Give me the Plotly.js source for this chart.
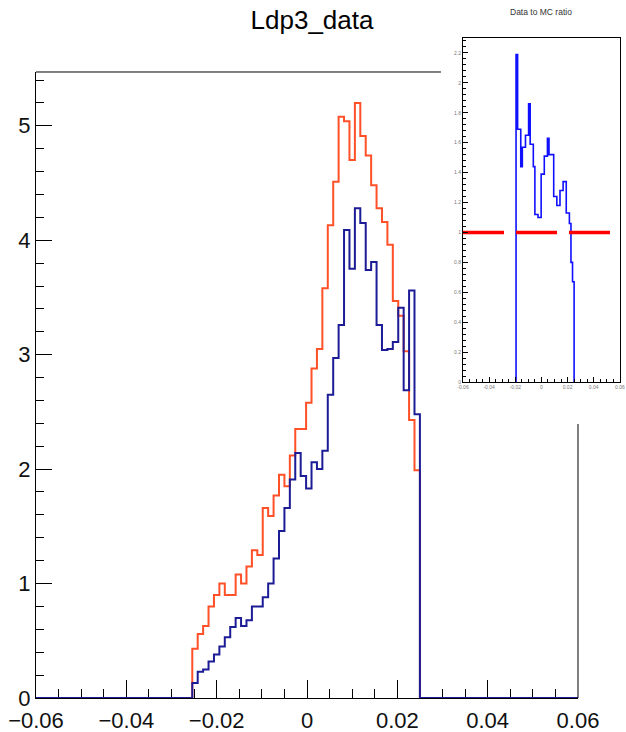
<!DOCTYPE html>
<html>
<head>
<meta charset="utf-8">
<script src="https://cdn.plot.ly/plotly-3.0.1.min.js"></script>
<style>
  html, body { margin: 0; padding: 0; background: #fff; }
  #plot { width: 626px; height: 732px; }
</style>
</head>
<body>
<div id="plot"></div>
<script>
// Histogram binning (shared by both distributions and the ratio)
const axisRange = [-0.06, 0.06];
const insetRange = [-0.06, 0.0601];
const binStart = -0.0254;
const binWidth = 0.0012;

// Inset x tick positions and labels
const insetTickVals = [-0.06, -0.04, -0.02, 0, 0.02, 0.04, 0.06];
const insetTickText = ['-0.06', '-0.04', '-0.02', '0', '0.02', '0.04', '0.06'];

// Bin contents, left to right
const histOrange = [
  0.43, 0.56, 0.63, 0.80, 0.90, 1.00, 0.90, 0.90, 1.08, 1.00,
  1.15, 1.29, 1.25, 1.66, 1.59, 1.77, 1.95, 1.85, 2.12, 2.35,
  2.35, 2.58, 2.88, 3.05, 3.58, 4.13, 4.51, 5.08, 5.04, 4.70,
  5.20, 4.91, 4.74, 4.48, 4.28, 4.16, 3.96, 3.47, 3.34, 3.03,
  2.43, 1.99
];
const histNavy = [
  0.13, 0.23, 0.25, 0.32, 0.38, 0.45, 0.53, 0.62, 0.70, 0.63,
  0.68, 0.80, 0.80, 0.88, 1.00, 1.22, 1.46, 1.66, 1.91, 2.14,
  1.94, 1.83, 2.06, 2.00, 2.16, 2.65, 2.97, 3.26, 4.09, 3.75,
  4.28, 4.15, 3.74, 3.81, 3.26, 3.04, 3.05, 3.11, 3.41, 2.69,
  3.56, 2.48
];

// Data to MC ratio, starting at this bin index
const ratioFirstBin = 5;
const ratioValues = [
  2.19, 1.69, 1.69, 1.44, 1.57, 1.57, 1.65, 1.65, 1.86, 1.59,
  1.59, 1.44, 1.12, 1.12, 1.10, 1.10, 1.39, 1.39, 1.51, 1.51,
  1.63, 1.52, 1.52, 1.52, 1.24, 1.24, 1.18, 1.18, 1.28, 1.28,
  1.34, 1.34, 1.13, 1.13, 1.06, 0.80, 0.67
];
const ratioReference = 1;

const FONT = 'Liberation Sans, Arial, Helvetica, sans-serif';

// Step outline of a histogram; optionally run along zero to the axis ends
function stepOutline(values, firstEdge, width, extendTo) {
  const xs = [], ys = [];
  if (extendTo) { xs.push(extendTo[0]); ys.push(0); }
  else { xs.push(firstEdge); ys.push(0); }
  values.forEach((v, i) => { xs.push(firstEdge + i * width); ys.push(v); });
  xs.push(firstEdge + values.length * width); ys.push(0);
  if (extendTo) { xs.push(extendTo[1]); ys.push(0); }
  return { x: xs, y: ys };
}

const orangeStep = stepOutline(histOrange, binStart, binWidth, axisRange);
const navyStep = stepOutline(histNavy, binStart, binWidth, axisRange);
const ratioStep = stepOutline(ratioValues, binStart + ratioFirstBin * binWidth, binWidth, null);

const traces = [
  { x: orangeStep.x, y: orangeStep.y, type: 'scatter', mode: 'lines',
    line: { shape: 'hv', color: '#ff5028', width: 2 }, xaxis: 'x', yaxis: 'y', hoverinfo: 'skip' },
  { x: navyStep.x, y: navyStep.y, type: 'scatter', mode: 'lines',
    line: { shape: 'hv', color: '#1c1c96', width: 2 }, xaxis: 'x', yaxis: 'y', hoverinfo: 'skip' },
  { x: ratioStep.x, y: ratioStep.y, type: 'scatter', mode: 'lines',
    line: { shape: 'hv', color: '#1010ff', width: 1.6 }, xaxis: 'x2', yaxis: 'y2', hoverinfo: 'skip' },
  { x: axisRange, y: [ratioReference, ratioReference], type: 'scatter', mode: 'lines',
    line: { color: '#ff0000', width: 3.5, dash: '41px,12px' }, xaxis: 'x2', yaxis: 'y2', hoverinfo: 'skip' }
];

const layout = {
  width: 626,
  height: 732,
  margin: { l: 36, r: 0, t: 0, b: 34 },
  paper_bgcolor: '#ffffff',
  plot_bgcolor: 'rgba(0,0,0,0)',
  showlegend: false,
  title: {
    text: 'Ldp3_data',
    font: { family: FONT, size: 26, color: '#000' },
    x: 312 / 626, xref: 'container', xanchor: 'center',
    y: 1 - 20 / 732, yref: 'container', yanchor: 'middle'
  },
  xaxis: {
    domain: [0, 0.91864], anchor: 'y', range: axisRange,
    showline: true, linecolor: '#000', linewidth: 1, layer: 'below traces',
    ticks: 'inside', ticklen: 18, tickwidth: 1, tickcolor: '#000',
    tickmode: 'linear', tick0: -0.06, dtick: 0.02, ticklabelstandoff: 3,
    minor: { dtick: 0.005, tick0: 0, ticks: 'inside', ticklen: 9, tickcolor: '#000', showgrid: false },
    showgrid: false, zeroline: false,
    tickfont: { family: FONT, size: 22, color: '#111' }
  },
  yaxis: {
    domain: [0, 0.89685], anchor: 'x', range: [0, 5.47],
    showline: true, linecolor: '#000', linewidth: 1,
    ticks: 'inside', ticklen: 16, tickwidth: 1, tickcolor: '#000',
    tickmode: 'linear', tick0: 0, dtick: 1,
    minor: { dtick: 0.2, tick0: 0, ticks: 'inside', ticklen: 8, tickcolor: '#000', showgrid: false },
    showgrid: false, zeroline: false,
    tickfont: { family: FONT, size: 22, color: '#111' }
  },
  xaxis2: {
    domain: [0.7237, 0.9898], anchor: 'y2', range: insetRange,
    showline: true, mirror: true, linecolor: '#000', linewidth: 1,
    ticks: 'inside', ticklen: 5, tickwidth: 1, tickcolor: '#000',
    tickmode: 'array', tickvals: insetTickVals, ticktext: insetTickText,
    minor: { dtick: 0.005, tick0: 0, ticks: 'inside', ticklen: 3, tickcolor: '#000', showgrid: false },
    showgrid: false, zeroline: false, ticklabeloverflow: 'allow',
    tickfont: { family: FONT, size: 5, color: '#777' }
  },
  yaxis2: {
    domain: [0.4527, 0.94556], anchor: 'x2', range: [0, 2.3],
    showline: true, mirror: true, linecolor: '#000', linewidth: 1,
    ticks: 'inside', ticklen: 5, tickwidth: 1, tickcolor: '#000',
    tickmode: 'linear', tick0: 0, dtick: 0.2,
    minor: { dtick: 0.04, tick0: 0, ticks: 'inside', ticklen: 3, tickcolor: '#000', showgrid: false },
    showgrid: false, zeroline: false,
    tickfont: { family: FONT, size: 5, color: '#777' }
  },
  annotations: [{
    text: 'Data to MC ratio', xref: 'paper', yref: 'paper',
    x: 0.856, y: 0.9828, xanchor: 'center', yanchor: 'middle', showarrow: false,
    font: { family: FONT, size: 8.5, color: '#333' }
  }],
  shapes: [
    // Upper frame edge of the main pad, up to the inset
    { type: 'line', xref: 'paper', yref: 'paper', x0: 0, x1: 0.6864, y0: 0.89685, y1: 0.89685,
      line: { color: '#000', width: 1 } },
    // Right frame edge of the main pad, below the inset
    { type: 'line', xref: 'paper', yref: 'paper', x0: 0.91864, x1: 0.91864, y0: 0, y1: 0.3926,
      line: { color: '#000', width: 1 } }
  ]
};

Plotly.newPlot('plot', traces, layout, { staticPlot: true, displayModeBar: false });
</script>
</body>
</html>
